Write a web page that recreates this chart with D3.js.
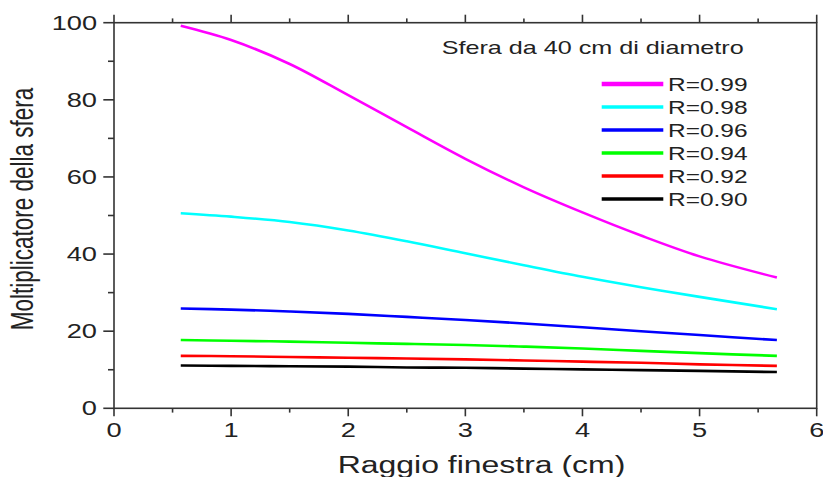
<!DOCTYPE html>
<html>
<head>
<meta charset="utf-8">
<script src="https://cdn.jsdelivr.net/npm/d3@7"></script>
<style>
    body { margin: 0; background: #fff; }
    svg { display: block; }
    text { font-family: "Liberation Sans", Arial, sans-serif; fill: #222; }
</style>
</head>
<body>
<div id="chart"></div>
<script>
// raggio della finestra (cm)
var raggio = [0.57, 1, 1.5, 2, 2.5, 3, 3.5, 4, 4.5, 5, 5.66];

// moltiplicatore per ogni riflettanza
var r099 = [99.2, 95.5, 89.3, 81.2, 72.9, 64.7, 57.3, 50.8, 44.8, 39.4, 33.9];
var r098 = [50.6, 49.7, 48.3, 46.1, 43.3, 40.2, 37.1, 34.1, 31.4, 28.9, 25.7];
var r096 = [25.9, 25.6, 25.1, 24.5, 23.7, 22.9, 22.0, 21.0, 20.0, 19.0, 17.7];
var r094 = [17.7, 17.5, 17.3, 17.0, 16.7, 16.4, 16.0, 15.5, 14.9, 14.3, 13.6];
var r092 = [13.6, 13.5, 13.3, 13.1, 12.9, 12.7, 12.4, 12.1, 11.8, 11.4, 11.0];
var r090 = [11.1, 11.0, 10.9, 10.8, 10.6, 10.5, 10.3, 10.1, 9.9, 9.7, 9.4];

var seriesNames = ["R=0.99", "R=0.98", "R=0.96", "R=0.94", "R=0.92", "R=0.90"];
var seriesValues = [r099, r098, r096, r094, r092, r090];
var seriesColors = ["#ff00ff", "#00ffff", "#0000ff", "#00ff00", "#ff0000", "#000000"];

var xTicks = [0, 1, 2, 3, 4, 5, 6];
var yTicks = [0, 20, 40, 60, 80, 100];

var title = "Sfera da 40 cm di diametro";
var xLabel = "Raggio finestra (cm)";
var yLabel = "Moltiplicatore della sfera";

var width = 823,
    height = 477;

// the original text is wider than normal Arial
var stretch = 1.36;

var margin = {left: 114, right: 6.3, top: 22.7, bottom: 68.7};

var svg = d3.select("#chart").append("svg")
    .attr("width", width)
    .attr("height", height);

var x = d3.scaleLinear().domain([0, 6]).range([margin.left, width - margin.right]);
var y = d3.scaleLinear().domain([0, 100]).range([height - margin.bottom, margin.top]);

var axisColor = "#333";

// frame
svg.append("rect")
    .attr("x", x(0))
    .attr("y", y(100))
    .attr("width", x(6) - x(0))
    .attr("height", y(0) - y(100))
    .attr("fill", "none")
    .attr("stroke", axisColor)
    .attr("stroke-width", 1.6);

// bottom and top ticks (major + minor)
var xMinor = d3.range(0.5, 6, 1);

function xTickMarks(yPos, dir) {
    svg.append("g")
        .selectAll("line.major")
        .data(xTicks)
        .enter().append("line")
        .attr("x1", function (d) { return x(d); })
        .attr("x2", function (d) { return x(d); })
        .attr("y1", yPos)
        .attr("y2", yPos + dir * 8)
        .attr("stroke", axisColor)
        .attr("stroke-width", 1.6);
    svg.append("g")
        .selectAll("line.minor")
        .data(xMinor)
        .enter().append("line")
        .attr("x1", function (d) { return x(d); })
        .attr("x2", function (d) { return x(d); })
        .attr("y1", yPos)
        .attr("y2", yPos + dir * 4.3)
        .attr("stroke", axisColor)
        .attr("stroke-width", 1.6);
}
xTickMarks(y(0), 1);
xTickMarks(y(100), -1);

// left ticks
var yMinor = d3.range(10, 100, 20);
svg.append("g")
    .selectAll("line")
    .data(yTicks)
    .enter().append("line")
    .attr("x1", x(0) - 10.7)
    .attr("x2", x(0))
    .attr("y1", function (d) { return y(d); })
    .attr("y2", function (d) { return y(d); })
    .attr("stroke", axisColor)
    .attr("stroke-width", 1.6);
svg.append("g")
    .selectAll("line")
    .data(yMinor)
    .enter().append("line")
    .attr("x1", x(0) - 6)
    .attr("x2", x(0))
    .attr("y1", function (d) { return y(d); })
    .attr("y2", function (d) { return y(d); })
    .attr("stroke", axisColor)
    .attr("stroke-width", 1.6);

// tick labels
svg.append("g")
    .selectAll("text")
    .data(xTicks)
    .enter().append("text")
    .attr("transform", function (d) {
        return "translate(" + x(d) + "," + (y(0) + 29) + ")scale(" + stretch + ",1)";
    })
    .attr("text-anchor", "middle")
    .style("font-size", "20px")
    .text(function (d) { return d; });

svg.append("g")
    .selectAll("text")
    .data(yTicks)
    .enter().append("text")
    .attr("transform", function (d) {
        return "translate(" + (x(0) - 17) + "," + (y(d) + 7) + ")scale(" + stretch + ",1)";
    })
    .attr("text-anchor", "end")
    .style("font-size", "20px")
    .text(function (d) { return d; });

// axis titles
svg.append("text")
    .attr("transform", "translate(481.5,473)scale(" + stretch + ",1)")
    .attr("text-anchor", "middle")
    .style("font-size", "23.5px")
    .text(xLabel);

svg.append("text")
    .attr("transform", "translate(33,209)scale(" + stretch + ",1)rotate(-90)")
    .attr("text-anchor", "middle")
    .style("font-size", "22.5px")
    .text(yLabel);

// curves
var line = d3.line()
    .x(function (d, i) { return x(raggio[i]); })
    .y(function (d) { return y(d); })
    .curve(d3.curveCatmullRom.alpha(0.5));

svg.append("g")
    .selectAll("path")
    .data(seriesValues)
    .enter().append("path")
    .attr("d", line)
    .attr("fill", "none")
    .attr("stroke", function (d, i) { return seriesColors[i]; })
    .attr("stroke-width", 2.6);

// title + legend
svg.append("text")
    .attr("transform", "translate(441.7,54)scale(" + stretch + ",1)")
    .style("font-size", "18.5px")
    .text(title);

var legend = svg.append("g")
    .selectAll("g")
    .data(seriesNames)
    .enter().append("g")
    .attr("transform", function (d, i) { return "translate(0," + (84 + i * 23) + ")"; });

legend.append("line")
    .attr("x1", 601.7)
    .attr("x2", 663.3)
    .attr("stroke", function (d, i) { return seriesColors[i]; })
    .attr("stroke-width", function (d, i) { return i === 0 ? 4.5 : 3.5; });

legend.append("text")
    .attr("transform", "translate(668,6.5)scale(" + stretch + ",1)")
    .style("font-size", "18px")
    .text(function (d) { return d; });
</script>
</body>
</html>
